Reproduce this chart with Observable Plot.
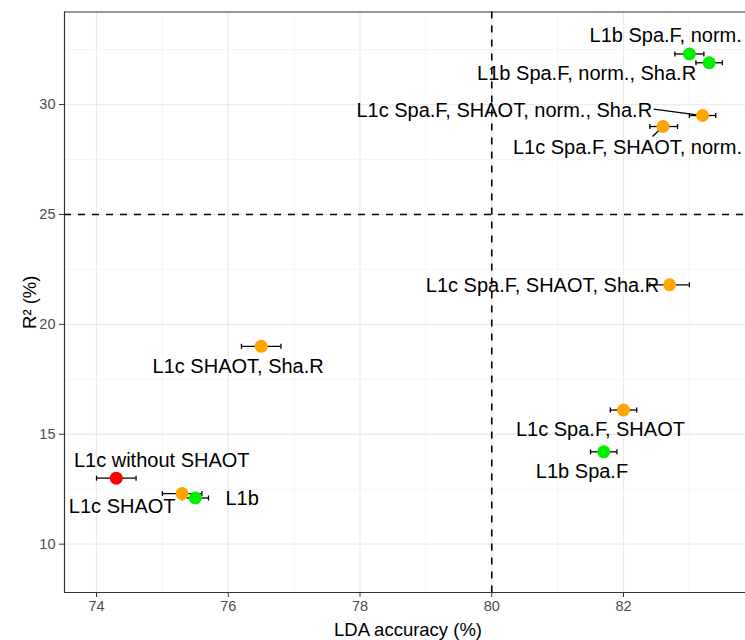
<!DOCTYPE html>
<html>
<head>
<meta charset="utf-8">
<script src="https://cdn.jsdelivr.net/npm/d3@7"></script>
<script src="https://cdn.jsdelivr.net/npm/@observablehq/plot@0.6"></script>
<style>
  body { margin: 0; background: #fff; }
  #chart svg { display: block; }
</style>
</head>
<body>
<div id="chart"></div>
<script>
// ---- data ----
const names = [
  "L1b Spa.F, norm.",
  "L1b Spa.F, norm., Sha.R",
  "L1c Spa.F, SHAOT, norm., Sha.R",
  "L1c Spa.F, SHAOT, norm.",
  "L1c Spa.F, SHAOT, Sha.R",
  "L1c Spa.F, SHAOT",
  "L1b Spa.F",
  "L1c SHAOT, Sha.R",
  "L1c without SHAOT",
  "L1c SHAOT",
  "L1b"
];
const product = ["L1b", "L1b", "L1c", "L1c", "L1c", "L1c", "L1b", "L1c", "L1c without SHAOT", "L1c", "L1b"];
const lda   = [83.0, 83.3, 83.2, 82.6, 82.7, 82.0, 81.7, 76.5, 74.3, 75.3, 75.5];
const ldaLo = [82.78, 83.1, 83.0, 82.4, 82.4, 81.8, 81.5, 76.2, 74.0, 75.0, 75.3];
const ldaHi = [83.22, 83.5, 83.4, 82.82, 83.0, 82.2, 81.9, 76.8, 74.6, 75.6, 75.7];
const r2    = [32.3, 31.9, 29.5, 29.0, 21.8, 16.1, 14.2, 19.0, 13.0, 12.3, 12.1];

// repelled label placement (data units), as in the reference
const labelX = [82.64, 81.44, 80.19, 82.06, 80.77, 81.65, 81.37, 76.15, 74.99, 74.39, 76.21];
const labelY = [33.14, 31.43, 29.73, 28.06, 21.77, 15.20, 13.32, 18.08, 13.81, 11.72, 12.07];
// leader segments: label index and the label-side end
const segIndex = [2, 3];
const segEndX  = [82.46, 82.44];
const segEndY  = [29.79, 28.55];

const productKeys   = ["L1b", "L1c", "L1c without SHAOT"];
const productColors = ["#00EE00", "#FFA500", "#FF0000"];

const xTicks = [74, 76, 78, 80, 82];
const xMinor = [75, 77, 79, 81, 83];
const yTicks = [10, 15, 20, 25, 30];
const yMinor = [12.5, 17.5, 22.5, 27.5, 32.5];
const xDomain = [73.514, 83.852];
const yDomain = [7.80, 34.21];
const refX = 80, refY = 25;
const xTitle = "LDA accuracy (%)";
const yTitle = "R² (%)";

// ---- build ----
const data = names.map((name, i) => ({name, product: product[i], lda: lda[i], lo: ldaLo[i], hi: ldaHi[i], r2: r2[i]}));
const labels = names.map((name, i) => ({name, x: labelX[i], y: labelY[i]}));
const segs = segIndex.map((k, j) => ({x1: lda[k], y1: r2[k], x2: segEndX[j], y2: segEndY[j]}));

const capSymbol = {
  draw(ctx, size) {
    const h = Math.sqrt(size / Math.PI);
    ctx.moveTo(0, -h);
    ctx.lineTo(0, h);
  }
};

const border = {stroke: "#333333", strokeWidth: 1.2};
const dashed = {stroke: "black", strokeWidth: 1.6, strokeDasharray: "7,7"};

const chart = Plot.plot({
  width: 745,
  height: 640,
  marginLeft: 64,
  marginRight: 0,
  marginTop: 11.5,
  marginBottom: 48,
  style: {fontFamily: "'Liberation Sans', Arial, Helvetica, sans-serif", background: "white", overflow: "hidden"},
  x: {domain: xDomain},
  y: {domain: yDomain},
  color: {domain: productKeys, range: productColors},
  marks: [
    Plot.gridX(xMinor, {stroke: "#f3f3f3", strokeOpacity: 1, strokeWidth: 0.8}),
    Plot.gridY(yMinor, {stroke: "#f3f3f3", strokeOpacity: 1, strokeWidth: 0.8}),
    Plot.gridX(xTicks, {stroke: "#ebebeb", strokeOpacity: 1, strokeWidth: 1.3}),
    Plot.gridY(yTicks, {stroke: "#ebebeb", strokeOpacity: 1, strokeWidth: 1.3}),
    Plot.ruleX([refX], dashed),
    Plot.ruleY([refY], dashed),
    Plot.ruleX([xDomain[0]], border),
    Plot.ruleY([yDomain[0]], border),
    Plot.ruleY([yDomain[1]], border),
    Plot.axisX(xTicks, {tickSize: 5, tickPadding: 3, fontSize: 14.5, fill: "#4d4d4d", stroke: "#333333", label: null}),
    Plot.axisY(yTicks, {tickSize: 5, tickPadding: 4, fontSize: 14.5, fill: "#4d4d4d", stroke: "#333333", label: null}),
    Plot.ruleY(data, {y: "r2", x1: "lo", x2: "hi", stroke: "black", strokeWidth: 1.3}),
    Plot.dot(data, {x: "lo", y: "r2", symbol: capSymbol, r: 2.5, stroke: "black", fill: "none", strokeWidth: 1.3}),
    Plot.dot(data, {x: "hi", y: "r2", symbol: capSymbol, r: 2.5, stroke: "black", fill: "none", strokeWidth: 1.3}),
    Plot.link(segs, {x1: "x1", y1: "y1", x2: "x2", y2: "y2", stroke: "black", strokeWidth: 1.3}),
    Plot.dot(data, {x: "lda", y: "r2", r: 6.5, fill: "product"}),
    Plot.text(labels, {x: "x", y: "y", text: "name", fontSize: 20, fill: "black"}),
    Plot.text([xTitle], {frameAnchor: "bottom", textAnchor: "middle", lineAnchor: "middle", dy: 37.5, dx: 3, fontSize: 18.5, fill: "black"}),
    Plot.text([yTitle], {frameAnchor: "left", textAnchor: "middle", lineAnchor: "middle", rotate: -90, dx: -34, fontSize: 18.5, fill: "black"})
  ]
});

document.getElementById("chart").appendChild(chart);
</script>
</body>
</html>
